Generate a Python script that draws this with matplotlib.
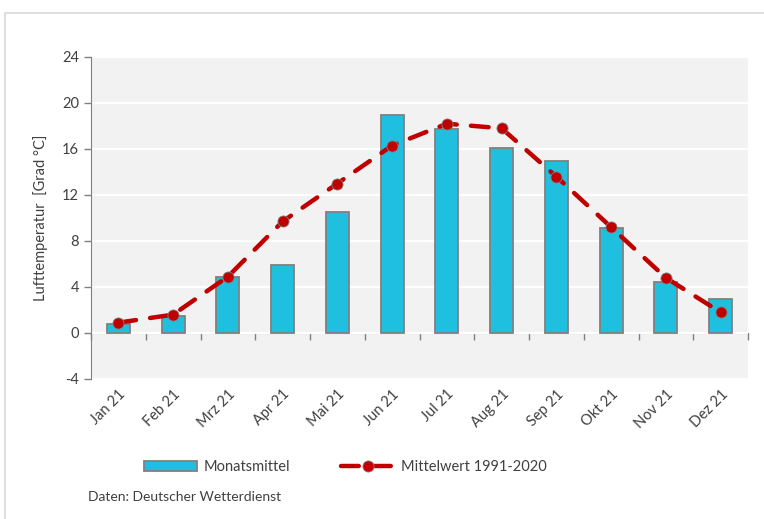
import matplotlib.pyplot as plt
import matplotlib.patches as mpatches
import numpy as np

plt.rcParams['font.family'] = ['Lato', 'DejaVu Sans']

months = ['Jan 21', 'Feb 21', 'Mrz 21', 'Apr 21', 'Mai 21', 'Jun 21',
          'Jul 21', 'Aug 21', 'Sep 21', 'Okt 21', 'Nov 21', 'Dez 21']
monatsmittel = [0.8, 1.5, 4.9, 5.9, 10.5, 19.0, 17.7, 16.1, 15.0, 9.1, 4.4, 3.0]
mittelwert = [0.9, 1.6, 4.9, 9.7, 13.0, 16.3, 18.2, 17.8, 13.6, 9.2, 4.8, 1.8]
yticks = [-4, 0, 4, 8, 12, 16, 20, 24]

txt = '#404040'
grey = '#808080'

fig = plt.figure(figsize=(7.64, 5.19), dpi=100)
ax = fig.add_axes([91/764, 1 - 379/519, (748 - 91)/764, (379 - 57)/519])
ax.set_facecolor('#f2f2f2')

# outer frame of the chart object
fig.patches.append(mpatches.Rectangle((5/764, -0.2), 1.2, 0.2 + 1 - 12.5/519,
                                      transform=fig.transFigure, fill=False,
                                      edgecolor='#d9d9d9', linewidth=1.2))

x = np.arange(len(months))
bars = ax.bar(x, monatsmittel, width=0.42, color='#1fc0df', edgecolor=grey,
              linewidth=1.3, zorder=3, label='Monatsmittel')
line, = ax.plot(x, mittelwert, color='#c00000', linewidth=3.2, dashes=(4, 3.2),
                dash_capstyle='round', marker='o', markersize=8,
                markerfacecolor='#c00000', markeredgecolor=grey,
                markeredgewidth=0.6, zorder=4, label='Mittelwert 1991-2020')

ax.set_ylim(-4, 24)
ax.set_xlim(-0.5, len(months) - 0.5)
ax.set_yticks(yticks)
ax.set_yticklabels([str(v) for v in yticks])
ax.grid(axis='y', color='white', linewidth=1.6, zorder=0)
ax.set_axisbelow(True)

for s in ['top', 'right', 'bottom']:
    ax.spines[s].set_visible(False)
ax.spines['left'].set_color(grey)
ax.tick_params(axis='y', colors=grey, labelcolor=txt, labelsize=10.5,
               length=5, width=1)
ax.tick_params(axis='x', length=0, labelsize=10.5, labelcolor=txt, pad=6)
ax.set_xticks(x)
ax.set_xticklabels(months, rotation=45, ha='right', rotation_mode='anchor')

# category axis drawn at zero
sec = ax.secondary_xaxis(4/28)
sec.set_xticks(np.arange(len(months) + 1) - 0.5)
sec.set_xticklabels([])
sec.spines['bottom'].set_color(grey)
sec.tick_params(colors=grey, length=5, width=1)

ax.set_ylabel('Lufttemperatur  [Grad °C]', color=txt, fontsize=10.5,
              labelpad=10)

fig.legend([bars, line], ['Monatsmittel', 'Mittelwert 1991-2020'],
           loc='center left', bbox_to_anchor=(131/764, 1 - 467/519), ncol=2,
           frameon=False, fontsize=10.5, handlelength=3.6, columnspacing=3.5,
           handletextpad=0.5, numpoints=1, labelcolor=txt)

fig.text(88/764, 1 - 497/519, 'Daten: Deutscher Wetterdienst', color=txt,
         fontsize=10, va='center')

plt.savefig('out.png', dpi=100)
